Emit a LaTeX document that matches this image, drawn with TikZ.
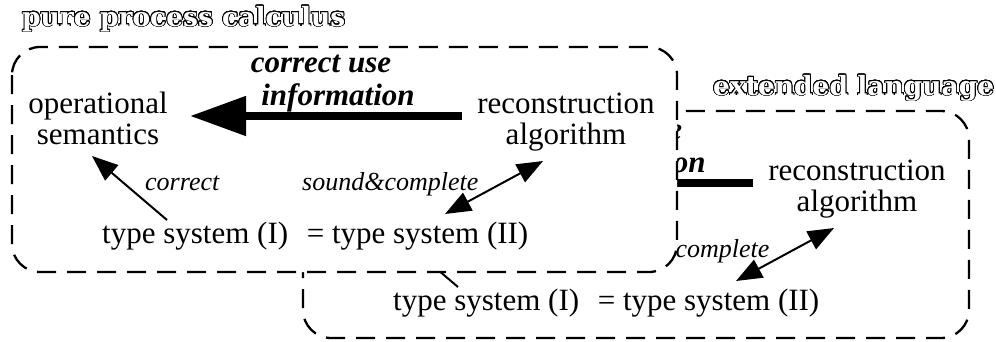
\documentclass[tikz,border=0pt]{standalone}
\usepackage{fontspec}
\setmainfont{Liberation Serif}
\newfontfamily\titlefont{DejaVu Serif}
\usepackage{contour}
\contourlength{0.75pt}
\contournumber{32}
\usetikzlibrary{arrows.meta}
\tikzset{
  txt/.style={inner sep=0pt, anchor=base, font=\fontsize{31}{33}\selectfont},
  bi/.style={inner sep=0pt, anchor=base, font=\fontsize{31}{33}\selectfont\bfseries\itshape},
  it/.style={inner sep=0pt, anchor=base west, font=\fontsize{26}{28}\selectfont\itshape},
  ttl/.style={inner sep=0pt, anchor=base west, font=\fontsize{26.5}{28}\selectfont\titlefont\bfseries},
  panel/.style={draw=black, fill=white, line width=2.3pt, dash pattern=on 19pt off 11pt, rounded corners=28pt},
  bigarrow/.style={line width=8pt, -{Triangle[length=56pt,width=38pt]}},
  thinarrow/.style={line width=2pt, -{Triangle[length=26pt,width=20pt]}},
  dblarrow/.style={line width=2pt, {Triangle[length=26pt,width=20pt]}-{Triangle[length=26pt,width=20pt]}},
}
\newcommand\drawcontent[1]{%
  \node[txt] (#1op1) at (98,113) {operational};
  \node[txt] (#1op2) at (98,144) {semantics};
  \node[txt] (#1rec1) at (566,113) {reconstruction};
  \node[txt] (#1rec2) at (566,144) {algorithm};
  \node[bi] (#1ci1) at (321,72) {correct use};
  \node[bi] (#1ci2) at (338,105) {information};
  \node[txt, anchor=base west] (#1ts) at (102,243) {type system (I)\hspace{0.35em} = type system (II)};
  \node[it] (#1lc) at (145,190) {correct};
  \node[it] (#1lsc) at (302,190) {sound\&complete};
  \coordinate (#1shaftA) at (462,116);
  \coordinate (#1shaftB) at (190,116);
  \coordinate (#1corA) at (167,220);
  \coordinate (#1corB) at (92,156);
  \coordinate (#1scA) at (445,214);
  \coordinate (#1scB) at (543,161);
  \draw[bigarrow] (#1shaftA) -- (#1shaftB);
  \draw[thinarrow] (#1corA) -- (#1corB);
  \draw[dblarrow] (#1scA) -- (#1scB);
}
\begin{document}
\begin{tikzpicture}[x=1pt,y=-1pt]
\useasboundingbox (0,0) rectangle (996,341);
% back panel: extended language
\draw[panel] (303,111) rectangle (969,338);
\begin{scope}[shift={(291,67)}]
  \drawcontent{b}
\end{scope}
\node[ttl] (tback) at (713,95) {\contour{black}{\textcolor{white}{extended language}}};
% front panel: pure process calculus
\draw[panel] (12,47) rectangle (677,272);
\drawcontent{f}
\node[ttl] (tfront) at (22,26) {\contour{black}{\textcolor{white}{pure process calculus}}};
\end{tikzpicture}
\end{document}
